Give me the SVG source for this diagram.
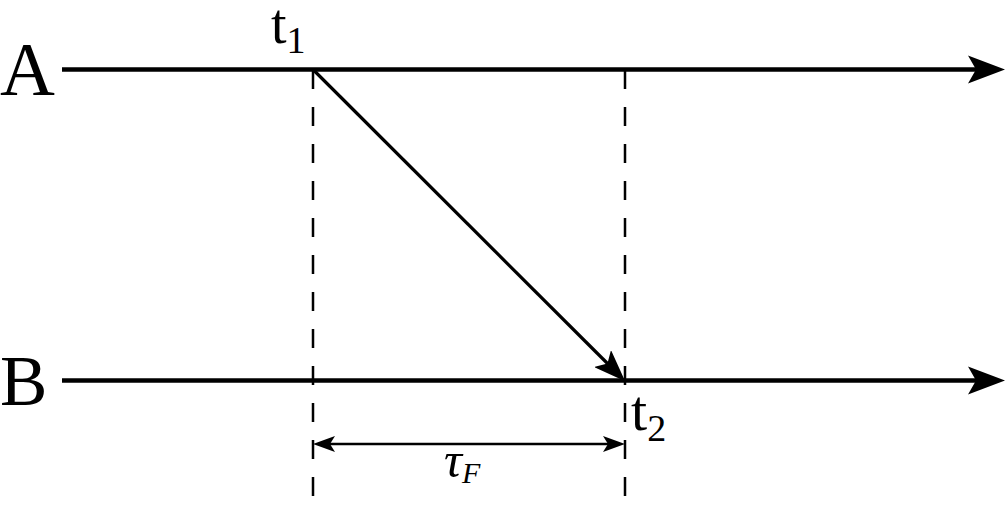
<svg xmlns="http://www.w3.org/2000/svg" width="1007" height="508" viewBox="0 0 1007 508">
<style>
.lbl{font-family:"Liberation Serif","Times New Roman",serif;fill:#000}
.it{font-style:italic}
.main{stroke:#000;stroke-width:4.5;fill:none}
.dash{stroke:#000;stroke-width:2.5;fill:none;stroke-dasharray:19 18}
.diag{stroke:#000;stroke-width:3.2;fill:none}
.dim{stroke:#000;stroke-width:2.5;fill:none}
</style>
<defs>
<marker id="bigArrow" markerUnits="userSpaceOnUse" viewBox="0 0 40 30" markerWidth="40" markerHeight="30" refX="15" refY="15" orient="auto">
<path d="M40,15 L3,1 L11,15 L3,29 Z" fill="#000"/>
</marker>
<marker id="diagArrow" markerUnits="userSpaceOnUse" viewBox="0 0 32 24" markerWidth="32" markerHeight="24" refX="12" refY="12" orient="auto">
<path d="M32,12 L0,0 L7,12 L0,24 Z" fill="#000"/>
</marker>
<marker id="dimArrow" markerUnits="userSpaceOnUse" viewBox="0 0 22 16" markerWidth="22" markerHeight="16" refX="10" refY="8" orient="auto-start-reverse">
<path d="M22,8 L0,0 L5,8 L0,16 Z" fill="#000"/>
</marker>
</defs>
<g id="connectors">
<line id="lineA" class="main" x1="62" y1="69.5" x2="980" y2="69.5" marker-end="url(#bigArrow)"/>
<line id="lineB" class="main" x1="62" y1="380.5" x2="980" y2="380.5" marker-end="url(#bigArrow)"/>
<line id="dashT1" class="dash" x1="313" y1="70" x2="313" y2="502"/>
<line id="dashT2" class="dash" x1="625" y1="70" x2="625" y2="502"/>
<line id="message" class="diag" x1="313" y1="69.5" x2="611" y2="367" marker-end="url(#diagArrow)"/>
<line id="tauF" class="dim" x1="325" y1="444" x2="613" y2="444" marker-start="url(#dimArrow)" marker-end="url(#dimArrow)"/>
</g>
<g id="nodeA"><text class="lbl" x="0" y="95" font-size="76">A</text></g>
<g id="nodeB"><text class="lbl" x="0" y="405" font-size="71">B</text></g>
<g id="labelT1"><text class="lbl" x="271" y="43" font-size="56">t<tspan font-size="38" dy="10">1</tspan></text></g>
<g id="labelT2"><text class="lbl" x="631" y="430" font-size="58">t<tspan font-size="38" dy="11">2</tspan></text></g>
<g id="labelTau"><text class="lbl it" x="444" y="477" font-size="50">τ<tspan font-size="30" dy="6">F</tspan></text></g>
</svg>
